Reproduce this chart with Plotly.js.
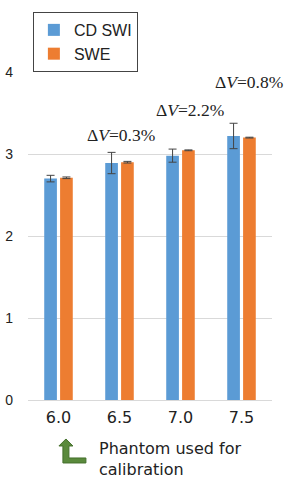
<!DOCTYPE html>
<html>
<head>
<meta charset="utf-8">
<script src="https://cdn.plot.ly/plotly-3.0.1.min.js"></script>
<style>
  html, body { margin: 0; padding: 0; background: #fff; }
  #chart { width: 285px; height: 478px; }
</style>
</head>
<body>
<div id="chart"></div>
<script>
// Phantom categories and measured values
const categories = ['6.0', '6.5', '7.0', '7.5'];
const cdSwi = [2.70, 2.89, 2.98, 3.22];
const cdSwiErr = [0.04, 0.13, 0.08, 0.155];
const swe = [2.71, 2.90, 3.045, 3.20];
const sweErr = [0.01, 0.01, 0.005, 0.005];
const deltaLabels = ['ΔV=0.3%', 'ΔV=2.2%', 'ΔV=0.8%'];
const deltaCats = ['6.5', '7.0', '7.5'];
const deltaY = [3.23, 3.54, 3.88];
const deltaShift = [1, 9, 7];

const errStyle = { type: 'data', visible: true, color: '#444', thickness: 1, width: 4 };

const traces = [
  {
    type: 'bar', name: 'CD SWI', x: categories, y: cdSwi,
    marker: { color: '#5B9BD5' },
    error_y: Object.assign({ array: cdSwiErr }, errStyle)
  },
  {
    type: 'bar', name: 'SWE', x: categories, y: swe,
    marker: { color: '#ED7D31' },
    error_y: Object.assign({ array: sweErr }, errStyle)
  }
];

// category axes position annotations by category index
const annotations = deltaLabels.map((t, i) => ({
  x: categories.indexOf(deltaCats[i]), y: deltaY[i], xref: 'x', yref: 'y',
  text: t.replace('V', '<i>V</i>'),
  showarrow: false, xshift: deltaShift[i],
  font: { family: 'Liberation Serif, DejaVu Serif, serif', size: 17.5, color: '#222' }
}));

annotations.push({
  x: 0.283, y: -0.114, xref: 'paper', yref: 'paper',
  xanchor: 'left', yanchor: 'top', align: 'left',
  text: 'Phantom used for<br>calibration', showarrow: false,
  font: { family: 'DejaVu Sans, sans-serif', size: 16, color: '#222' }
});

const layout = {
  width: 285, height: 478,
  margin: { l: 28, r: 13, t: 72, b: 78 },
  paper_bgcolor: '#fff', plot_bgcolor: '#fff',
  barmode: 'group', bargap: 0.48, bargroupgap: 0.2,
  showlegend: true,
  legend: {
    x: 0.02, y: 1.183, xanchor: 'left', yanchor: 'top',
    bordercolor: '#444', borderwidth: 1, bgcolor: '#fff',
    font: { family: 'Liberation Sans, Arial, sans-serif', size: 16, color: '#222' },
    tracegroupgap: 0, itemwidth: 30
  },
  xaxis: {
    type: 'category', range: [-0.5, 3.5],
    showgrid: false, showline: false, zeroline: false,
    ticks: '', ticklabelstandoff: 6,
    tickfont: { family: 'DejaVu Sans, sans-serif', size: 16, color: '#222' }
  },
  yaxis: {
    range: [0, 4], tickvals: [0, 1, 2, 3, 4], ticktext: ['0', '1', '2', '3', '4'],
    showgrid: true, gridcolor: '#d9d9d9', gridwidth: 1,
    zeroline: true, zerolinecolor: '#d9d9d9', showline: false,
    ticks: '', ticklabelstandoff: 14,
    tickfont: { family: 'Liberation Sans, Arial, sans-serif', size: 14, color: '#222' }
  },
  annotations: annotations,
  shapes: [{
    type: 'path', xref: 'paper', yref: 'paper',
    xsizemode: 'pixel', ysizemode: 'pixel',
    xanchor: 0.139, yanchor: -0.192,
    path: 'M1,0 L24,0 L24,5 L7,5 L7,17 L11,17 L4,24 L-3,17 L1,17 Z',
    fillcolor: '#5A8A3C', line: { color: '#44702C', width: 1 }
  }]
};

Plotly.newPlot('chart', traces, layout, { staticPlot: true, displayModeBar: false });
</script>
</body>
</html>
